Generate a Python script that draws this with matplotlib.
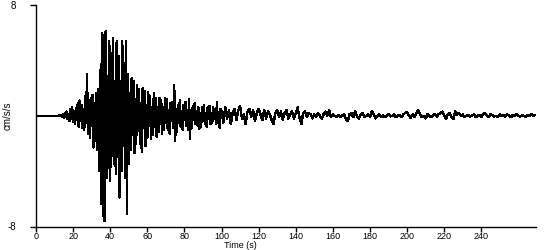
import numpy as np
import matplotlib
matplotlib.use("Agg")
import matplotlib.pyplot as plt

# ---- data ----
# quiet pre-event segment
t_quiet = [0.0, 12.0]
v_quiet = [0.0, 0.0]

# strong-motion segment, sampled every 0.5 s from 12 s to 99.5 s
t_strong_start, t_strong_step = 12.0, 0.5
v_strong = [
    0.0, 0.02, -0.02, 0.03,                          # 12-14
    -0.05, 0.1, -0.15, 0.2, -0.1, 0.3, -0.25, 0.15,  # 14-18
    -0.4, 0.5, -0.2, 0.6, -0.45, 0.3, -0.6, 0.55,    # 18-22
    -0.3, 0.9, -0.8, 1.1, -0.4, 0.8, -0.9, 0.5,      # 22-26
    -1.0, 1.4, -0.5, 3.0, -1.3, 0.6, -1.6, 1.3,      # 26-30
    -0.7, 1.5, -2.3, 0.9, -1.8, 1.6, -2.5, 1.9,      # 30-34
    -4.0, 3.3, -6.4, 6.0, -7.2, 5.8, -7.6, 6.1,      # 34-38
    -4.5, 2.9, -3.8, 5.4, -4.7, 4.5, -2.9, 5.6,      # 38-42
    -3.5, 2.0, -4.2, 5.4, -3.0, 4.3, -5.9, 2.5,      # 42-46
    -4.0, 5.4, -2.2, 3.8, -4.5, 5.4, -7.1, 3.0,      # 46-50
    -3.5, 1.6, -2.5, 2.7, -1.4, 2.5, -2.7, 1.2,      # 50-54
    -2.0, 2.2, -1.0, 1.9, -2.0, 0.9, -2.6, 2.0,      # 54-58
    -0.9, 1.8, -2.2, 0.8, -1.6, 1.7, -0.7, 1.4,      # 58-62
    -1.7, 0.6, -1.4, 1.6, -0.8, 1.3, -1.5, 0.6,      # 62-66
    -1.2, 1.3, -0.6, 1.1, -1.3, 0.5, -1.0, 1.3,      # 66-70
    -0.5, 1.2, -1.0, 0.4, -1.3, 0.9, -0.4, 1.0,      # 70-74
    -0.9, 2.2, -1.8, 0.5, -1.2, 0.8, -0.4, 1.1,      # 74-78
    -0.8, 0.3, -1.0, 0.8, -0.3, 1.0, -0.7, 0.4,      # 78-82
    -1.0, 1.2, -1.7, 0.3, -0.9, 0.7, -0.3, 0.9,      # 82-86
    -0.6, 0.3, -0.7, 0.6, -0.95, 0.2, -0.8, 0.6,     # 86-90
    -0.3, 0.8, -0.6, 0.2, -0.8, 0.6, -0.2, 0.7,      # 90-94
    -0.6, 0.2, -0.5, 0.6, -0.2, 0.5, -0.6, 0.95,     # 94-98
    -0.5, 0.2, -0.85, 0.5,                           # 98-100
]

# coda segment, sampled every 1 s from 100 s to 269 s
t_coda_start, t_coda_step = 100.0, 1.0
v_coda = [
    0.3, -0.5, 0.6, -0.2, 0.4, -0.6, 0.2, 0.5, -0.3, 0.4,
    0.7, -0.2, 0.1, -0.6, 0.3, 0.5, -0.1, 0.4, -0.4, 0.2,
    0.5, 0.1, -0.3, 0.4, -0.2, 0.3, 0.1, -0.3, -0.6, 0.2,
    0.4, -0.1, 0.3, -0.3, 0.2, 0.4, -0.2, 0.1, 0.3, -0.2,
    0.2, 0.6, -0.1, -0.6, 0.2, 0.3, -0.1, 0.2, 0.1, -0.2,
    0.1, -0.1, 0.2, 0.0, -0.2, 0.1, 0.3, 0.0, 0.4, -0.1,
    0.1, 0.0, -0.1, 0.05, -0.1, 0.0, 0.1, -0.2, -0.4, 0.1,
    0.2, -0.1, 0.3, 0.0, -0.2, 0.1, 0.2, -0.1, 0.0, 0.1,
    -0.1, 0.35, 0.1, -0.2, 0.0, 0.1, -0.1, 0.05, -0.1, 0.0,
    0.1, -0.05, 0.0, 0.1, -0.1, 0.0, 0.05, -0.1, 0.1, 0.2,
    0.25, 0.0, -0.15, 0.1, -0.1, 0.2, 0.4, 0.1, -0.1, 0.0,
    -0.2, 0.1, 0.0, -0.1, 0.05, 0.1, -0.05, 0.1, 0.2, 0.3,
    0.0, -0.2, 0.1, 0.2, -0.1, -0.25, 0.3, 0.1, 0.2, 0.0,
    0.1, -0.1, 0.0, 0.05, -0.05, 0.0, 0.1, -0.1, 0.0, 0.05,
    -0.1, 0.1, 0.2, 0.0, -0.1, 0.1, 0.05, -0.05, 0.0, -0.1,
    0.1, 0.0, 0.05, -0.05, 0.1, 0.0, -0.1, 0.05, 0.0, 0.1,
    0.0, -0.05, 0.05, 0.0, -0.1, 0.05, 0.0, 0.1, 0.0, 0.05,
]

x_ticks = list(range(0, 241, 20))
y_ticks = [-8, 8]
x_label = "Time (s)"
y_label = "cm/s/s"

# ---- build the series ----
t_strong = t_strong_start + t_strong_step * np.arange(len(v_strong))
t_coda = t_coda_start + t_coda_step * np.arange(len(v_coda))
t = np.concatenate([t_quiet, t_strong, t_coda])
v = np.concatenate([v_quiet, v_strong, v_coda])

plt.rcParams['font.family'] = ['Liberation Sans Narrow', 'Liberation Sans', 'DejaVu Sans']

fig = plt.figure(figsize=(5.5, 2.5), dpi=100)
ax = fig.add_axes([36 / 550, 1 - 226.5 / 250, 500 / 550, 221.5 / 250])
ax.plot(t, v, color='black', linewidth=1.0, antialiased=False)

ax.set_xlim(0, 269.5)
ax.set_ylim(-8, 8)
ax.set_xticks(x_ticks)
ax.set_yticks(y_ticks)
ax.set_yticklabels([str(y) for y in y_ticks])

for s in ['top', 'right']:
    ax.spines[s].set_visible(False)
for s in ['left', 'bottom']:
    ax.spines[s].set_linewidth(1.0)
    ax.spines[s].set_color('black')

ax.tick_params(axis='x', direction='out', length=3.5, width=1.0, pad=0.5, labelsize=6.5)
ax.tick_params(axis='y', direction='out', length=4.5, width=1.0, pad=10, labelsize=7)

ax.set_xlabel(x_label, fontsize=6.5, va='top')
ax.xaxis.set_label_coords((240 - 36) / 500, -0.064)
ax.set_ylabel(y_label, fontsize=7)
ax.yaxis.set_label_coords(-0.046, 0.5)

fig.savefig('out.png', dpi=100)
